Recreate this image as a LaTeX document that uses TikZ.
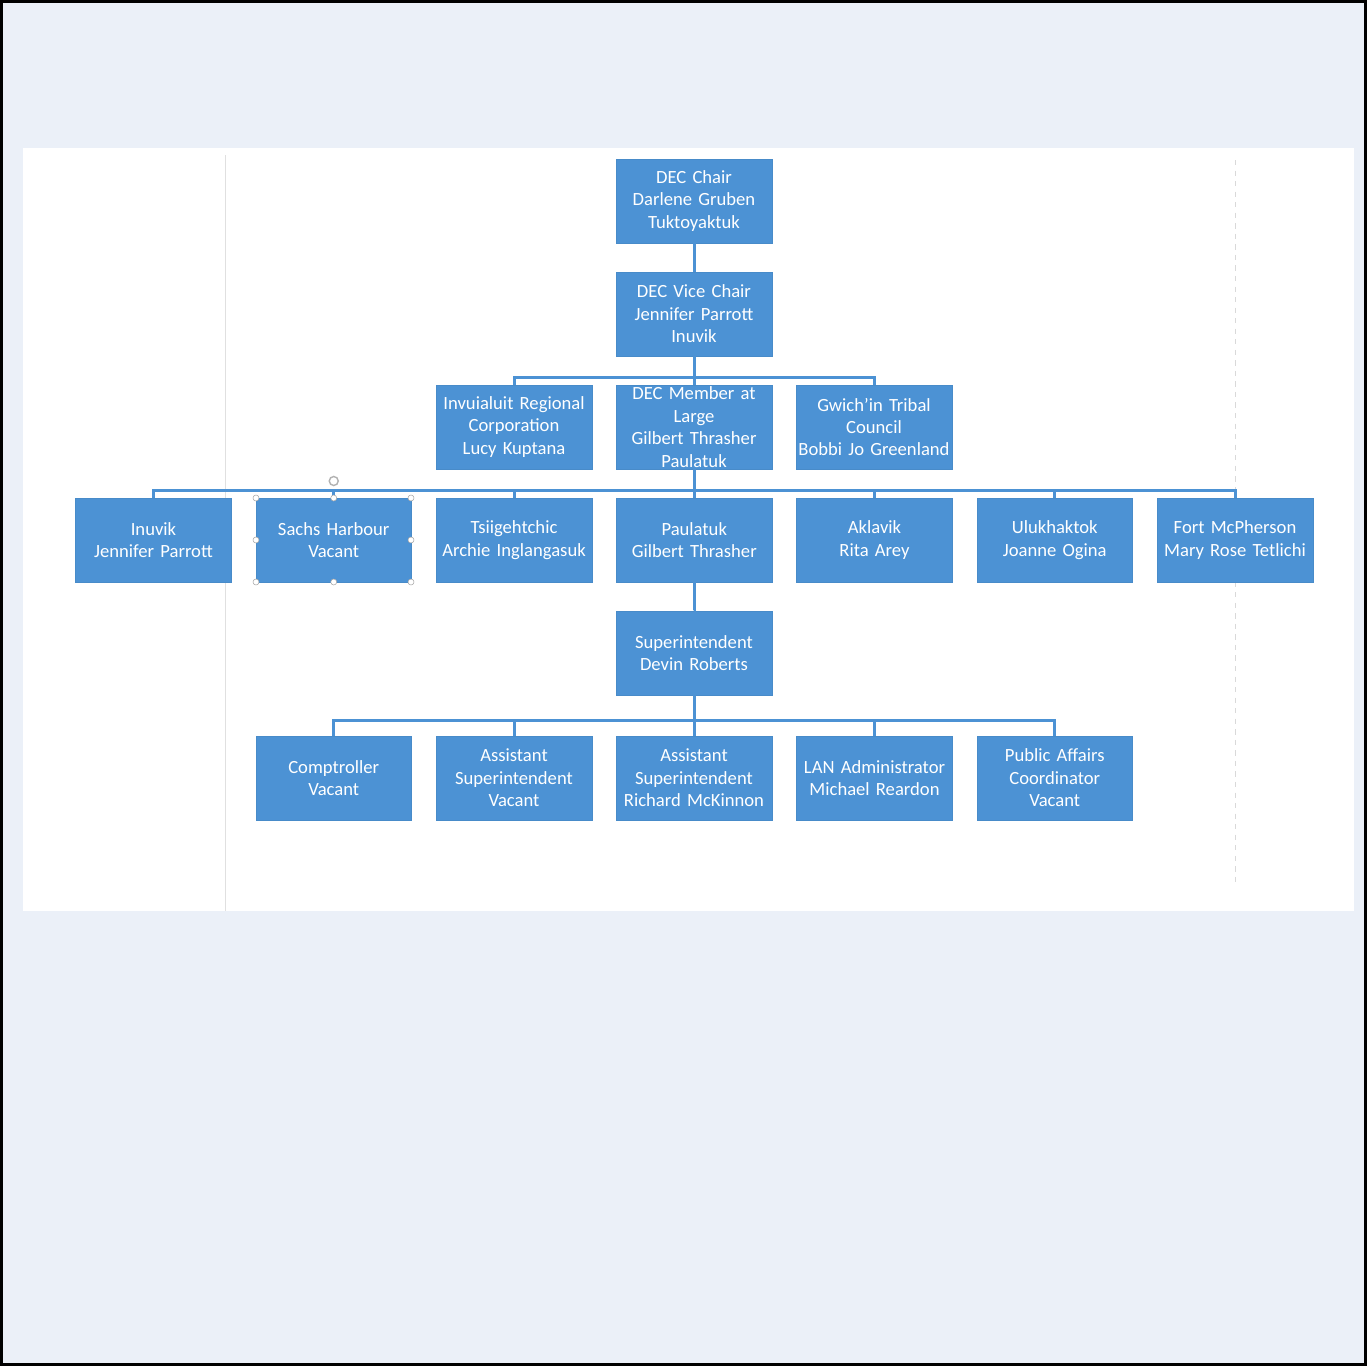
\documentclass[tikz,border=0pt]{standalone}
\usepackage{fontspec}
\setmainfont{Carlito}
\usepackage{tikz}
\definecolor{chartblue}{RGB}{76,146,212}
\definecolor{pagebg}{RGB}{235,240,248}
\tikzset{orgbox/.style={rectangle, fill=chartblue, draw=chartblue!95!black, line width=0.3pt,
    minimum width=3.12cm, minimum height=1.68cm, text width=3.1cm, align=center,
    inner sep=0pt, text=white, font=\fontsize{10.6}{12.8}\selectfont},
  orgline/.style={draw=chartblue, line width=0.06cm}}
\newcommand{\orgnode}[3] {\node at (#1) (#2) [orgbox] {#3};}
\newcommand{\orgbranch}[3] {\draw [orgline] (#1.south) |- ([yshift=#3]#2.north) -- (#2.north);}

\begin{document}
\begin{tikzpicture}[x=0.02cm, y=-0.02cm]
\useasboundingbox (0,0) rectangle (1367,1366);
\fill [pagebg] (0,0) rectangle (1367,1366);
\draw [black, line width=0.06cm] (1.5,1.5) rectangle (1365.5,1364.5);
\fill [white] (23,148) rectangle (1354,911);
\draw [black!12, line width=0.4pt] (225,155) -- (225,911);
\draw [black!15, dashed, line width=0.4pt] (1235,160) -- (1235,885);

\orgnode {694,201} {chair} {DEC Chair\\Darlene Gruben\\Tuktoyaktuk};
\orgnode {694,314} {vice} {DEC Vice Chair\\Jennifer Parrott\\Inuvik};

\orgnode {514,427} {irc} {Invuialuit Regional\\Corporation\\Lucy Kuptana};
\orgnode {694,427} {atlarge} {DEC Member at\\Large\\Gilbert Thrasher\\Paulatuk};
\orgnode {874,427} {gtc} {Gwich’in Tribal\\Council\\Bobbi Jo Greenland};

\orgnode {153.5,540} {inuvik} {Inuvik\\Jennifer Parrott};
\orgnode {333.75,540} {sachs} {Sachs Harbour\\Vacant};
\orgnode {514,540} {tsii} {Tsiigehtchic\\Archie Inglangasuk};
\orgnode {694.25,540} {paulatuk} {Paulatuk\\Gilbert Thrasher};
\orgnode {874.5,540} {aklavik} {Aklavik\\Rita Arey};
\orgnode {1054.75,540} {ulu} {Ulukhaktok\\Joanne Ogina};
\orgnode {1235,540} {fortmc} {Fort McPherson\\Mary Rose Tetlichi};

\orgnode {694,653} {supt} {Superintendent\\Devin Roberts};

\orgnode {333.75,778} {comp} {Comptroller\\Vacant};
\orgnode {514,778} {asstA} {Assistant\\Superintendent\\Vacant};
\orgnode {694,778} {asstB} {Assistant\\Superintendent\\Richard McKinnon};
\orgnode {874.5,778} {lan} {LAN Administrator\\Michael Reardon};
\orgnode {1054.75,778} {pac} {Public Affairs\\Coordinator\\Vacant};

\orgbranch {chair}{vice}{0cm};
\orgbranch {vice}{irc}{0.15cm};
\orgbranch {vice}{atlarge}{0cm};
\orgbranch {vice}{gtc}{0.15cm};

\foreach \kid in {inuvik,sachs,tsii,paulatuk,aklavik,ulu,fortmc}
  \orgbranch {atlarge}{\kid}{0.15cm};

\orgbranch {paulatuk}{supt}{0cm};

\foreach \kid in {comp,asstA,asstB,lan,pac}
  \orgbranch {supt}{\kid}{0.3cm};

% selection handles round Sachs Harbour
\foreach \hx/\hy in {256/498,333.75/498,411/498,256/540,411/540,256/582,333.75/582,411/582}
  \draw [black!35, fill=white, line width=0.3pt] (\hx,\hy) circle (0.06cm);
\draw [black!30, line width=0.8pt] (333.75,481) circle (0.09cm);
\end{tikzpicture}
\end{document}
